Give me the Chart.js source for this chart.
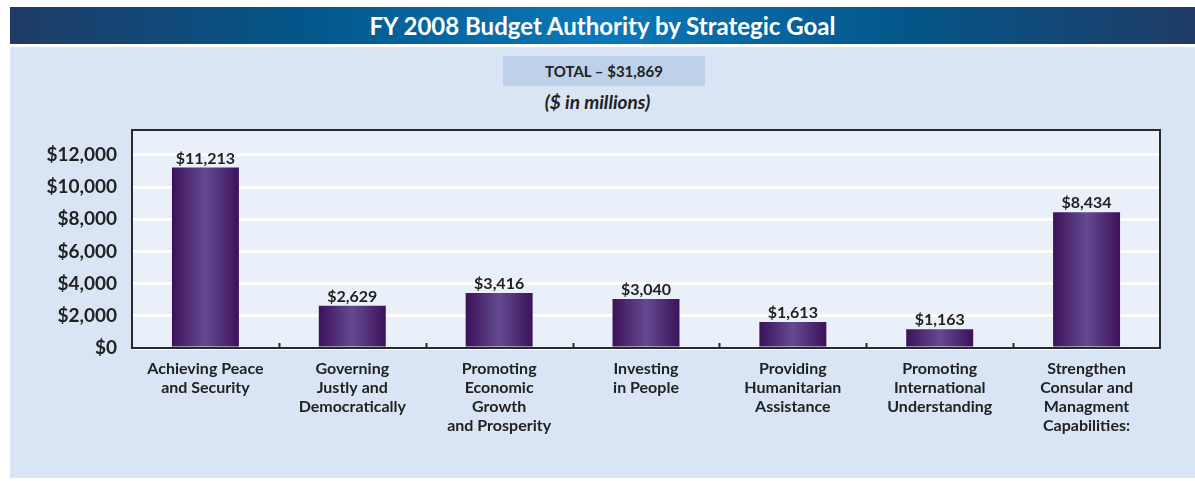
<!DOCTYPE html>
<html>
<head>
<meta charset="utf-8">
<script src="https://cdn.jsdelivr.net/npm/chart.js@4.4.0/dist/chart.umd.min.js"></script>
<style>
  html, body { margin: 0; padding: 0; background: #ffffff; }
  body { width: 1195px; height: 481px; position: relative; overflow: hidden; font-family: Lato, "Noto Sans", sans-serif; }
  #titleBar {
    position: absolute; left: 10px; top: 7px; width: 1185px; height: 37px;
    background: linear-gradient(to right, #1f3b66 0%, #03578a 25%, #0b78ba 50%, #03578a 75%, #1f3b66 100%);
    color: #fff; font-weight: 700; font-size: 24px; text-align: center; line-height: 37px;
  }
  #panel { position: absolute; left: 10px; top: 47px; width: 1185px; height: 431px; background: #d9e5f4; }
  #totalBox {
    position: absolute; left: 503px; top: 56px; width: 202px; height: 30px;
    background: #bed0ea; color: #222; font-weight: 700; font-size: 15px; text-align: center; line-height: 30px;
  }
  #units { position: absolute; left: 0; width: 1195px; top: 90px; text-align: center; font-weight: 700; font-style: italic; font-size: 19px; color: #222; }
  #chart { position: absolute; left: 0; top: 0; }
</style>
</head>
<body>
<div id="titleBar">FY 2008 Budget Authority by Strategic Goal</div>
<div id="panel"></div>
<div id="totalBox">TOTAL – $31,869</div>
<div id="units">($ in millions)</div>
<canvas id="chart" width="1195" height="481"></canvas>
<script>
// ===== Data =====
const categories = [
  ["Achieving Peace", "and Security"],
  ["Governing", "Justly and", "Democratically"],
  ["Promoting", "Economic", "Growth", "and Prosperity"],
  ["Investing", "in People"],
  ["Providing", "Humanitarian", "Assistance"],
  ["Promoting", "International", "Understanding"],
  ["Strengthen", "Consular and", "Managment", "Capabilities:"]
];
const budgetValues = [11213, 2629, 3416, 3040, 1613, 1163, 8434];
const yTicks = [0, 2000, 4000, 6000, 8000, 10000, 12000];

const BAR_SHARE = 0.456;

function money(v) {
  return "$" + v.toLocaleString("en-US");
}

// ===== Plugins =====
const plotFrame = {
  id: "plotFrame",
  beforeDraw(chart) {
    const { ctx, chartArea: a } = chart;
    ctx.save();
    ctx.fillStyle = "#e9f0fa";
    ctx.fillRect(a.left, a.top, a.right - a.left, a.bottom - a.top);
    ctx.restore();
  },
  afterDraw(chart) {
    const { ctx, chartArea: a } = chart;
    const x = chart.scales.x;
    const step = (a.right - a.left) / categories.length;
    ctx.save();
    ctx.strokeStyle = "#2a2a2a";
    ctx.lineWidth = 2;
    ctx.strokeRect(a.left, a.top, a.right - a.left, a.bottom - a.top);
    // small inner ticks between categories
    for (let i = 0; i < categories.length - 1; i++) {
      const px = Math.round(x.getPixelForValue(i) + step / 2) + 0.5;
      ctx.beginPath();
      ctx.moveTo(px, a.bottom);
      ctx.lineTo(px, a.bottom - 5);
      ctx.stroke();
    }
    ctx.restore();
  }
};

const valueLabels = {
  id: "valueLabels",
  afterDatasetsDraw(chart) {
    const { ctx } = chart;
    const meta = chart.getDatasetMeta(0);
    ctx.save();
    ctx.fillStyle = "#222";
    ctx.font = "700 16px Lato";
    ctx.textAlign = "center";
    ctx.textBaseline = "bottom";
    meta.data.forEach((bar, i) => {
      ctx.fillText(money(budgetValues[i]), bar.x, bar.y - 1);
    });
    ctx.restore();
  }
};

function barGradient(context) {
  const chart = context.chart;
  if (!chart.chartArea) return "#4b2a78";
  const a = chart.chartArea;
  const cx = chart.scales.x.getPixelForValue(context.dataIndex);
  const w = (a.right - a.left) / categories.length * BAR_SHARE;
  const g = chart.ctx.createLinearGradient(cx - w / 2, 0, cx + w / 2, 0);
  g.addColorStop(0, "#3c1259");
  g.addColorStop(0.5, "#644a91");
  g.addColorStop(1, "#3c1259");
  return g;
}

// ===== Chart =====
new Chart(document.getElementById("chart"), {
  type: "bar",
  data: {
    labels: categories,
    datasets: [{
      data: budgetValues,
      backgroundColor: barGradient,
      borderWidth: 0,
      barPercentage: 1,
      categoryPercentage: BAR_SHARE
    }]
  },
  options: {
    responsive: false,
    animation: false,
    devicePixelRatio: 1,
    layout: { padding: { top: 130, right: 35, left: 0, bottom: 0 } },
    plugins: { legend: { display: false }, tooltip: { enabled: false } },
    scales: {
      x: {
        grid: { display: false },
        border: { display: false },
        ticks: {
          color: "#222",
          font: { family: "Lato", weight: "700", size: 16, lineHeight: "19px" },
          padding: 3, maxRotation: 0, autoSkip: false
        },
        afterFit(axis) { axis.height = 133; }
      },
      y: {
        min: 0,
        max: 13550,
        afterBuildTicks(axis) { axis.ticks = yTicks.map(v => ({ value: v })); },
        grid: { color: "#ffffff", lineWidth: 3, drawTicks: false },
        border: { display: false },
        ticks: {
          color: "#222",
          font: { family: "Lato", weight: "700", size: 19 },
          padding: 15,
          callback: v => money(v)
        },
        afterFit(axis) { axis.width = 132; }
      }
    }
  },
  plugins: [plotFrame, valueLabels]
});
</script>
</body>
</html>
